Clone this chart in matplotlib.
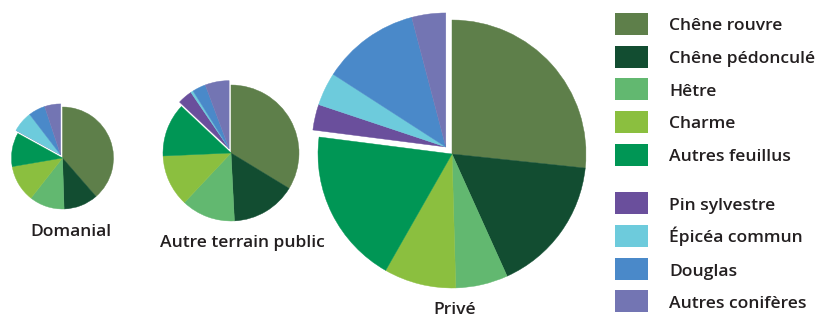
import math
import matplotlib.pyplot as plt
from matplotlib.patches import Rectangle

# --- Données (parts en %) ---
especes = ['Chêne rouvre', 'Chêne pédonculé', 'Hêtre', 'Charme', 'Autres feuillus',
           'Pin sylvestre', 'Épicéa commun', 'Douglas', 'Autres conifères']
couleurs = ['#5e7f4a', '#124d31', '#62b870', '#8bbf3f', '#009655',
            '#6a4f9c', '#6dcbdc', '#4a89c9', '#7375b3']
n_feuillus = 5

proprietes = ['Domanial', 'Autre terrain public', 'Privé']
domanial = [38.6, 10.9, 11.1, 11.7, 10.7, 0.0, 6.6, 5.3, 5.1]
autre_public = [33.7, 15.5, 12.8, 12.3, 12.7, 3.5, 0.6, 3.2, 5.7]
prive = [26.7, 16.6, 6.3, 8.7, 18.8, 3.1, 4.0, 11.8, 4.1]

# --- Mise en page (pixels) ---
W, H = 818, 318
centres = [(62.5, 158), (231, 153), (452, 154)]
rayons = [51, 68, 134]
pos_titres = [(71, 236), (242, 247), (455, 314)]
decalage = 0.07
texte_col = '#231f20'
police = ['Open Sans', 'DejaVu Sans']
taille = 12.6

fig = plt.figure(figsize=(W / 100, H / 100), dpi=100)
ax = fig.add_axes([0, 0, 1, 1])


def camembert(valeurs, centre, rayon):
    cx, cy = centre[0], H - centre[1]
    total = sum(valeurs)
    # angle médian du groupe des conifères (sens horaire depuis midi)
    part_con = sum(valeurs[n_feuillus:]) / total
    ang = math.radians(90 + 360 * part_con / 2)
    dx = decalage * rayon * math.cos(ang)
    dy = decalage * rayon * math.sin(ang)
    for groupe, (ox, oy) in ((range(0, n_feuillus), (0, 0)),
                             (range(n_feuillus, len(valeurs)), (dx, dy))):
        wedges, _ = ax.pie(valeurs, colors=couleurs, startangle=90, counterclock=False,
                           radius=rayon, center=(cx + ox, cy + oy), frame=True,
                           wedgeprops=dict(linewidth=0))
        for i, w in enumerate(wedges):
            if i not in groupe:
                w.set_visible(False)
            else:
                w.set_edgecolor(couleurs[i])
                w.set_linewidth(0.3)


for nom, vals, c, r, (tx, ty) in zip(proprietes, [domanial, autre_public, prive],
                                      centres, rayons, pos_titres):
    camembert(vals, c, r)
    ax.text(tx, H - ty, nom, ha='center', va='baseline', fontsize=taille,
            fontweight='semibold', color=texte_col, family=police)

# --- Légende ---
y_leg = [24, 56.5, 89, 122, 154.5, 203, 236, 269, 301]
for nom, coul, y in zip(especes, couleurs, y_leg):
    ax.add_patch(Rectangle((615, H - y - 11), 33, 22, facecolor=coul, edgecolor='none'))
    ax.text(669, H - y - 6.5, nom, ha='left', va='baseline', fontsize=taille,
            fontweight='semibold', color=texte_col, family=police)

ax.set_xlim(0, W)
ax.set_ylim(0, H)
ax.set_aspect('equal')
ax.axis('off')
fig.savefig('out.png', dpi=100)
